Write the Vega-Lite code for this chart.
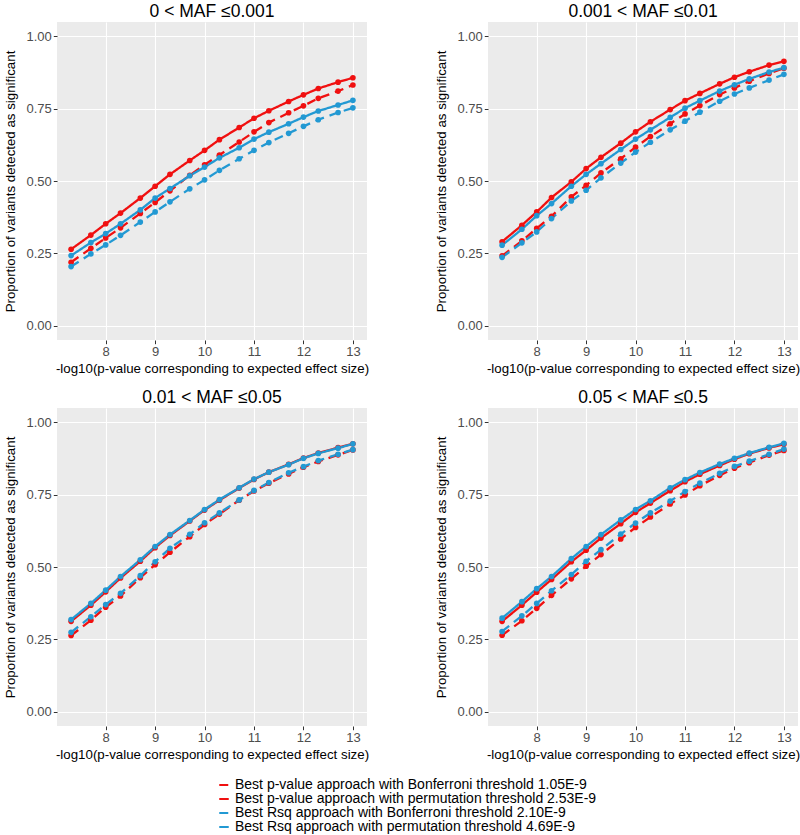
{
  "$schema": "https://vega.github.io/schema/vega-lite/v6.json",
  "padding": {"left": 3, "top": 2, "right": 0, "bottom": 2},
  "background": "white",
  "config": {
    "font": "Liberation Sans",
    "view": {"fill": "#EBEBEB", "stroke": null},
    "axis": {
      "domain": false,
      "labelColor": "#4D4D4D",
      "labelFontSize": 13,
      "tickColor": "#333333",
      "tickSize": 3.7,
      "tickWidth": 1,
      "gridColor": "#FFFFFF",
      "gridWidth": 1.1,
      "titleFontWeight": "normal",
      "titleFontSize": 13.3,
      "titleColor": "#000000",
      "labelPadding": 2
    },
    "axisX": {"titlePadding": 3},
    "axisY": {"titlePadding": 8},
    "title": {"fontSize": 17.5, "fontWeight": "normal", "anchor": "middle", "offset": 2, "color": "#000000"},
    "legend": {
      "direction": "vertical",
      "title": null,
      "labelFontSize": 14,
      "labelLimit": 700,
      "symbolType": "stroke",
      "symbolSize": 90,
      "symbolStrokeWidth": 2,
      "rowPadding": 0,
      "labelOffset": 4
    }
  },
  "data": {"values": [
    {"panel":"p1","series":"pB","x":7.3,"y":0.219},{"panel":"p1","series":"pB","x":7.7,"y":0.267},{"panel":"p1","series":"pB","x":8,"y":0.303},{"panel":"p1","series":"pB","x":8.3,"y":0.338},{"panel":"p1","series":"pB","x":8.7,"y":0.388},{"panel":"p1","series":"pB","x":9,"y":0.426},{"panel":"p1","series":"pB","x":9.3,"y":0.466},{"panel":"p1","series":"pB","x":9.7,"y":0.52},{"panel":"p1","series":"pB","x":10,"y":0.556},{"panel":"p1","series":"pB","x":10.3,"y":0.59},{"panel":"p1","series":"pB","x":10.7,"y":0.635},{"panel":"p1","series":"pB","x":11,"y":0.67},{"panel":"p1","series":"pB","x":11.3,"y":0.702},{"panel":"p1","series":"pB","x":11.7,"y":0.736},{"panel":"p1","series":"pB","x":12,"y":0.76},{"panel":"p1","series":"pB","x":12.3,"y":0.786},{"panel":"p1","series":"pB","x":12.7,"y":0.811},{"panel":"p1","series":"pB","x":13,"y":0.832},
    {"panel":"p1","series":"pP","x":7.3,"y":0.264},{"panel":"p1","series":"pP","x":7.7,"y":0.313},{"panel":"p1","series":"pP","x":8,"y":0.352},{"panel":"p1","series":"pP","x":8.3,"y":0.389},{"panel":"p1","series":"pP","x":8.7,"y":0.441},{"panel":"p1","series":"pP","x":9,"y":0.482},{"panel":"p1","series":"pP","x":9.3,"y":0.523},{"panel":"p1","series":"pP","x":9.7,"y":0.571},{"panel":"p1","series":"pP","x":10,"y":0.606},{"panel":"p1","series":"pP","x":10.3,"y":0.643},{"panel":"p1","series":"pP","x":10.7,"y":0.685},{"panel":"p1","series":"pP","x":11,"y":0.717},{"panel":"p1","series":"pP","x":11.3,"y":0.743},{"panel":"p1","series":"pP","x":11.7,"y":0.775},{"panel":"p1","series":"pP","x":12,"y":0.798},{"panel":"p1","series":"pP","x":12.3,"y":0.82},{"panel":"p1","series":"pP","x":12.7,"y":0.842},{"panel":"p1","series":"pP","x":13,"y":0.857},
    {"panel":"p1","series":"rB","x":7.3,"y":0.204},{"panel":"p1","series":"rB","x":7.7,"y":0.248},{"panel":"p1","series":"rB","x":8,"y":0.279},{"panel":"p1","series":"rB","x":8.3,"y":0.312},{"panel":"p1","series":"rB","x":8.7,"y":0.358},{"panel":"p1","series":"rB","x":9,"y":0.393},{"panel":"p1","series":"rB","x":9.3,"y":0.428},{"panel":"p1","series":"rB","x":9.7,"y":0.473},{"panel":"p1","series":"rB","x":10,"y":0.504},{"panel":"p1","series":"rB","x":10.3,"y":0.537},{"panel":"p1","series":"rB","x":10.7,"y":0.577},{"panel":"p1","series":"rB","x":11,"y":0.606},{"panel":"p1","series":"rB","x":11.3,"y":0.633},{"panel":"p1","series":"rB","x":11.7,"y":0.665},{"panel":"p1","series":"rB","x":12,"y":0.689},{"panel":"p1","series":"rB","x":12.3,"y":0.712},{"panel":"p1","series":"rB","x":12.7,"y":0.737},{"panel":"p1","series":"rB","x":13,"y":0.753},
    {"panel":"p1","series":"rP","x":7.3,"y":0.242},{"panel":"p1","series":"rP","x":7.7,"y":0.287},{"panel":"p1","series":"rP","x":8,"y":0.318},{"panel":"p1","series":"rP","x":8.3,"y":0.352},{"panel":"p1","series":"rP","x":8.7,"y":0.4},{"panel":"p1","series":"rP","x":9,"y":0.441},{"panel":"p1","series":"rP","x":9.3,"y":0.474},{"panel":"p1","series":"rP","x":9.7,"y":0.518},{"panel":"p1","series":"rP","x":10,"y":0.548},{"panel":"p1","series":"rP","x":10.3,"y":0.58},{"panel":"p1","series":"rP","x":10.7,"y":0.615},{"panel":"p1","series":"rP","x":11,"y":0.645},{"panel":"p1","series":"rP","x":11.3,"y":0.669},{"panel":"p1","series":"rP","x":11.7,"y":0.698},{"panel":"p1","series":"rP","x":12,"y":0.721},{"panel":"p1","series":"rP","x":12.3,"y":0.742},{"panel":"p1","series":"rP","x":12.7,"y":0.763},{"panel":"p1","series":"rP","x":13,"y":0.779},
    {"panel":"p2","series":"pB","x":7.3,"y":0.241},{"panel":"p2","series":"pB","x":7.7,"y":0.293},{"panel":"p2","series":"pB","x":8,"y":0.336},{"panel":"p2","series":"pB","x":8.3,"y":0.378},{"panel":"p2","series":"pB","x":8.7,"y":0.445},{"panel":"p2","series":"pB","x":9,"y":0.485},{"panel":"p2","series":"pB","x":9.3,"y":0.528},{"panel":"p2","series":"pB","x":9.7,"y":0.577},{"panel":"p2","series":"pB","x":10,"y":0.617},{"panel":"p2","series":"pB","x":10.3,"y":0.654},{"panel":"p2","series":"pB","x":10.7,"y":0.698},{"panel":"p2","series":"pB","x":11,"y":0.732},{"panel":"p2","series":"pB","x":11.3,"y":0.761},{"panel":"p2","series":"pB","x":11.7,"y":0.799},{"panel":"p2","series":"pB","x":12,"y":0.822},{"panel":"p2","series":"pB","x":12.3,"y":0.845},{"panel":"p2","series":"pB","x":12.7,"y":0.872},{"panel":"p2","series":"pB","x":13,"y":0.89},
    {"panel":"p2","series":"pP","x":7.3,"y":0.29},{"panel":"p2","series":"pP","x":7.7,"y":0.347},{"panel":"p2","series":"pP","x":8,"y":0.393},{"panel":"p2","series":"pP","x":8.3,"y":0.443},{"panel":"p2","series":"pP","x":8.7,"y":0.497},{"panel":"p2","series":"pP","x":9,"y":0.543},{"panel":"p2","series":"pP","x":9.3,"y":0.582},{"panel":"p2","series":"pP","x":9.7,"y":0.631},{"panel":"p2","series":"pP","x":10,"y":0.67},{"panel":"p2","series":"pP","x":10.3,"y":0.705},{"panel":"p2","series":"pP","x":10.7,"y":0.747},{"panel":"p2","series":"pP","x":11,"y":0.778},{"panel":"p2","series":"pP","x":11.3,"y":0.803},{"panel":"p2","series":"pP","x":11.7,"y":0.836},{"panel":"p2","series":"pP","x":12,"y":0.859},{"panel":"p2","series":"pP","x":12.3,"y":0.878},{"panel":"p2","series":"pP","x":12.7,"y":0.901},{"panel":"p2","series":"pP","x":13,"y":0.914},
    {"panel":"p2","series":"rB","x":7.3,"y":0.236},{"panel":"p2","series":"rB","x":7.7,"y":0.286},{"panel":"p2","series":"rB","x":8,"y":0.324},{"panel":"p2","series":"rB","x":8.3,"y":0.37},{"panel":"p2","series":"rB","x":8.7,"y":0.431},{"panel":"p2","series":"rB","x":9,"y":0.468},{"panel":"p2","series":"rB","x":9.3,"y":0.511},{"panel":"p2","series":"rB","x":9.7,"y":0.562},{"panel":"p2","series":"rB","x":10,"y":0.6},{"panel":"p2","series":"rB","x":10.3,"y":0.634},{"panel":"p2","series":"rB","x":10.7,"y":0.677},{"panel":"p2","series":"rB","x":11,"y":0.707},{"panel":"p2","series":"rB","x":11.3,"y":0.738},{"panel":"p2","series":"rB","x":11.7,"y":0.776},{"panel":"p2","series":"rB","x":12,"y":0.801},{"panel":"p2","series":"rB","x":12.3,"y":0.822},{"panel":"p2","series":"rB","x":12.7,"y":0.849},{"panel":"p2","series":"rB","x":13,"y":0.869},
    {"panel":"p2","series":"rP","x":7.3,"y":0.278},{"panel":"p2","series":"rP","x":7.7,"y":0.333},{"panel":"p2","series":"rP","x":8,"y":0.38},{"panel":"p2","series":"rP","x":8.3,"y":0.422},{"panel":"p2","series":"rP","x":8.7,"y":0.482},{"panel":"p2","series":"rP","x":9,"y":0.523},{"panel":"p2","series":"rP","x":9.3,"y":0.56},{"panel":"p2","series":"rP","x":9.7,"y":0.609},{"panel":"p2","series":"rP","x":10,"y":0.645},{"panel":"p2","series":"rP","x":10.3,"y":0.677},{"panel":"p2","series":"rP","x":10.7,"y":0.72},{"panel":"p2","series":"rP","x":11,"y":0.752},{"panel":"p2","series":"rP","x":11.3,"y":0.778},{"panel":"p2","series":"rP","x":11.7,"y":0.811},{"panel":"p2","series":"rP","x":12,"y":0.833},{"panel":"p2","series":"rP","x":12.3,"y":0.853},{"panel":"p2","series":"rP","x":12.7,"y":0.877},{"panel":"p2","series":"rP","x":13,"y":0.892},
    {"panel":"p3","series":"pB","x":7.3,"y":0.263},{"panel":"p3","series":"pB","x":7.7,"y":0.316},{"panel":"p3","series":"pB","x":8,"y":0.361},{"panel":"p3","series":"pB","x":8.3,"y":0.4},{"panel":"p3","series":"pB","x":8.7,"y":0.463},{"panel":"p3","series":"pB","x":9,"y":0.508},{"panel":"p3","series":"pB","x":9.3,"y":0.551},{"panel":"p3","series":"pB","x":9.7,"y":0.605},{"panel":"p3","series":"pB","x":10,"y":0.647},{"panel":"p3","series":"pB","x":10.3,"y":0.683},{"panel":"p3","series":"pB","x":10.7,"y":0.731},{"panel":"p3","series":"pB","x":11,"y":0.763},{"panel":"p3","series":"pB","x":11.3,"y":0.79},{"panel":"p3","series":"pB","x":11.7,"y":0.822},{"panel":"p3","series":"pB","x":12,"y":0.845},{"panel":"p3","series":"pB","x":12.3,"y":0.865},{"panel":"p3","series":"pB","x":12.7,"y":0.888},{"panel":"p3","series":"pB","x":13,"y":0.905},
    {"panel":"p3","series":"pP","x":7.3,"y":0.312},{"panel":"p3","series":"pP","x":7.7,"y":0.368},{"panel":"p3","series":"pP","x":8,"y":0.414},{"panel":"p3","series":"pP","x":8.3,"y":0.462},{"panel":"p3","series":"pP","x":8.7,"y":0.52},{"panel":"p3","series":"pP","x":9,"y":0.567},{"panel":"p3","series":"pP","x":9.3,"y":0.609},{"panel":"p3","series":"pP","x":9.7,"y":0.659},{"panel":"p3","series":"pP","x":10,"y":0.697},{"panel":"p3","series":"pP","x":10.3,"y":0.731},{"panel":"p3","series":"pP","x":10.7,"y":0.773},{"panel":"p3","series":"pP","x":11,"y":0.803},{"panel":"p3","series":"pP","x":11.3,"y":0.828},{"panel":"p3","series":"pP","x":11.7,"y":0.855},{"panel":"p3","series":"pP","x":12,"y":0.877},{"panel":"p3","series":"pP","x":12.3,"y":0.894},{"panel":"p3","series":"pP","x":12.7,"y":0.913},{"panel":"p3","series":"pP","x":13,"y":0.926},
    {"panel":"p3","series":"rB","x":7.3,"y":0.274},{"panel":"p3","series":"rB","x":7.7,"y":0.328},{"panel":"p3","series":"rB","x":8,"y":0.37},{"panel":"p3","series":"rB","x":8.3,"y":0.409},{"panel":"p3","series":"rB","x":8.7,"y":0.47},{"panel":"p3","series":"rB","x":9,"y":0.518},{"panel":"p3","series":"rB","x":9.3,"y":0.565},{"panel":"p3","series":"rB","x":9.7,"y":0.613},{"panel":"p3","series":"rB","x":10,"y":0.653},{"panel":"p3","series":"rB","x":10.3,"y":0.687},{"panel":"p3","series":"rB","x":10.7,"y":0.732},{"panel":"p3","series":"rB","x":11,"y":0.765},{"panel":"p3","series":"rB","x":11.3,"y":0.792},{"panel":"p3","series":"rB","x":11.7,"y":0.826},{"panel":"p3","series":"rB","x":12,"y":0.847},{"panel":"p3","series":"rB","x":12.3,"y":0.868},{"panel":"p3","series":"rB","x":12.7,"y":0.89},{"panel":"p3","series":"rB","x":13,"y":0.906},
    {"panel":"p3","series":"rP","x":7.3,"y":0.318},{"panel":"p3","series":"rP","x":7.7,"y":0.374},{"panel":"p3","series":"rP","x":8,"y":0.42},{"panel":"p3","series":"rP","x":8.3,"y":0.467},{"panel":"p3","series":"rP","x":8.7,"y":0.525},{"panel":"p3","series":"rP","x":9,"y":0.571},{"panel":"p3","series":"rP","x":9.3,"y":0.612},{"panel":"p3","series":"rP","x":9.7,"y":0.661},{"panel":"p3","series":"rP","x":10,"y":0.699},{"panel":"p3","series":"rP","x":10.3,"y":0.733},{"panel":"p3","series":"rP","x":10.7,"y":0.774},{"panel":"p3","series":"rP","x":11,"y":0.804},{"panel":"p3","series":"rP","x":11.3,"y":0.828},{"panel":"p3","series":"rP","x":11.7,"y":0.854},{"panel":"p3","series":"rP","x":12,"y":0.876},{"panel":"p3","series":"rP","x":12.3,"y":0.893},{"panel":"p3","series":"rP","x":12.7,"y":0.911},{"panel":"p3","series":"rP","x":13,"y":0.926},
    {"panel":"p4","series":"pB","x":7.3,"y":0.264},{"panel":"p4","series":"pB","x":7.7,"y":0.314},{"panel":"p4","series":"pB","x":8,"y":0.357},{"panel":"p4","series":"pB","x":8.3,"y":0.402},{"panel":"p4","series":"pB","x":8.7,"y":0.459},{"panel":"p4","series":"pB","x":9,"y":0.503},{"panel":"p4","series":"pB","x":9.3,"y":0.543},{"panel":"p4","series":"pB","x":9.7,"y":0.597},{"panel":"p4","series":"pB","x":10,"y":0.637},{"panel":"p4","series":"pB","x":10.3,"y":0.673},{"panel":"p4","series":"pB","x":10.7,"y":0.718},{"panel":"p4","series":"pB","x":11,"y":0.749},{"panel":"p4","series":"pB","x":11.3,"y":0.781},{"panel":"p4","series":"pB","x":11.7,"y":0.817},{"panel":"p4","series":"pB","x":12,"y":0.842},{"panel":"p4","series":"pB","x":12.3,"y":0.861},{"panel":"p4","series":"pB","x":12.7,"y":0.887},{"panel":"p4","series":"pB","x":13,"y":0.903},
    {"panel":"p4","series":"pP","x":7.3,"y":0.312},{"panel":"p4","series":"pP","x":7.7,"y":0.368},{"panel":"p4","series":"pP","x":8,"y":0.413},{"panel":"p4","series":"pP","x":8.3,"y":0.457},{"panel":"p4","series":"pP","x":8.7,"y":0.518},{"panel":"p4","series":"pP","x":9,"y":0.558},{"panel":"p4","series":"pP","x":9.3,"y":0.6},{"panel":"p4","series":"pP","x":9.7,"y":0.65},{"panel":"p4","series":"pP","x":10,"y":0.689},{"panel":"p4","series":"pP","x":10.3,"y":0.721},{"panel":"p4","series":"pP","x":10.7,"y":0.764},{"panel":"p4","series":"pP","x":11,"y":0.795},{"panel":"p4","series":"pP","x":11.3,"y":0.821},{"panel":"p4","series":"pP","x":11.7,"y":0.851},{"panel":"p4","series":"pP","x":12,"y":0.873},{"panel":"p4","series":"pP","x":12.3,"y":0.892},{"panel":"p4","series":"pP","x":12.7,"y":0.912},{"panel":"p4","series":"pP","x":13,"y":0.925},
    {"panel":"p4","series":"rB","x":7.3,"y":0.277},{"panel":"p4","series":"rB","x":7.7,"y":0.331},{"panel":"p4","series":"rB","x":8,"y":0.374},{"panel":"p4","series":"rB","x":8.3,"y":0.418},{"panel":"p4","series":"rB","x":8.7,"y":0.474},{"panel":"p4","series":"rB","x":9,"y":0.52},{"panel":"p4","series":"rB","x":9.3,"y":0.56},{"panel":"p4","series":"rB","x":9.7,"y":0.614},{"panel":"p4","series":"rB","x":10,"y":0.652},{"panel":"p4","series":"rB","x":10.3,"y":0.687},{"panel":"p4","series":"rB","x":10.7,"y":0.728},{"panel":"p4","series":"rB","x":11,"y":0.761},{"panel":"p4","series":"rB","x":11.3,"y":0.79},{"panel":"p4","series":"rB","x":11.7,"y":0.824},{"panel":"p4","series":"rB","x":12,"y":0.848},{"panel":"p4","series":"rB","x":12.3,"y":0.866},{"panel":"p4","series":"rB","x":12.7,"y":0.89},{"panel":"p4","series":"rB","x":13,"y":0.908},
    {"panel":"p4","series":"rP","x":7.3,"y":0.323},{"panel":"p4","series":"rP","x":7.7,"y":0.38},{"panel":"p4","series":"rP","x":8,"y":0.425},{"panel":"p4","series":"rP","x":8.3,"y":0.467},{"panel":"p4","series":"rP","x":8.7,"y":0.529},{"panel":"p4","series":"rP","x":9,"y":0.571},{"panel":"p4","series":"rP","x":9.3,"y":0.612},{"panel":"p4","series":"rP","x":9.7,"y":0.663},{"panel":"p4","series":"rP","x":10,"y":0.699},{"panel":"p4","series":"rP","x":10.3,"y":0.729},{"panel":"p4","series":"rP","x":10.7,"y":0.774},{"panel":"p4","series":"rP","x":11,"y":0.802},{"panel":"p4","series":"rP","x":11.3,"y":0.827},{"panel":"p4","series":"rP","x":11.7,"y":0.856},{"panel":"p4","series":"rP","x":12,"y":0.876},{"panel":"p4","series":"rP","x":12.3,"y":0.894},{"panel":"p4","series":"rP","x":12.7,"y":0.914},{"panel":"p4","series":"rP","x":13,"y":0.928}
  ]},
  "vconcat": [
    {"hconcat": [
      {"title": "0 < MAF ≤0.001", "width": 310, "height": 318,
       "transform": [{"filter": "datum.panel === 'p1'"}],
       "layer": [
         {"mark": {"type": "line", "strokeWidth": 2.3},
          "encoding": {
            "x": {"field": "x", "type": "quantitative", "scale": {"domain": [7.015, 13.285], "nice": false, "zero": false}, "axis": {"values": [8,9,10,11,12,13], "title": "-log10(p-value corresponding to expected effect size)"}},
            "y": {"field": "y", "type": "quantitative", "scale": {"domain": [-0.05, 1.05], "nice": false}, "axis": {"values": [0,0.25,0.5,0.75,1], "format": ".2f", "title": "Proportion of variants detected as significant"}},
            "color": {"field": "series", "type": "nominal", "scale": {"domain": ["pB","pP","rB","rP"], "range": ["#F01010","#F01010","#2299D3","#2299D3"]}, "legend": {"orient": "none", "legendX": 160, "legendY": 756, "labelExpr": "{'pB':'Best p-value approach with Bonferroni threshold 1.05E-9','pP':'Best p-value approach with permutation threshold 2.53E-9','rB':'Best Rsq approach with Bonferroni threshold 2.10E-9','rP':'Best Rsq approach with permutation threshold 4.69E-9'}[datum.value]"}},
            "strokeDash": {"field": "series", "type": "nominal", "scale": {"domain": ["pB","pP","rB","rP"], "range": [[9,6],[1,0],[9,6],[1,0]]}, "legend": {"orient": "none", "legendX": 160, "legendY": 756, "labelExpr": "{'pB':'Best p-value approach with Bonferroni threshold 1.05E-9','pP':'Best p-value approach with permutation threshold 2.53E-9','rB':'Best Rsq approach with Bonferroni threshold 2.10E-9','rP':'Best Rsq approach with permutation threshold 4.69E-9'}[datum.value]"}}
          }},
         {"mark": {"type": "point", "filled": true, "size": 32, "opacity": 1},
          "encoding": {
            "x": {"field": "x", "type": "quantitative", "axis": {"orient": "top", "values": [7.5,8.5,9.5,10.5,11.5,12.5], "gridWidth": 0.55, "labels": false, "ticks": false, "title": null}},
            "y": {"field": "y", "type": "quantitative", "axis": {"orient": "right", "values": [0.125,0.375,0.625,0.875], "gridWidth": 0.55, "labels": false, "ticks": false, "title": null}},
            "color": {"field": "series", "type": "nominal"}
          }}
       ],
       "resolve": {"axis": {"x": "independent", "y": "independent"}}
      },
      {"title": "0.001 < MAF ≤0.01", "width": 310, "height": 318,
       "transform": [{"filter": "datum.panel === 'p2'"}],
       "layer": [
         {"mark": {"type": "line", "strokeWidth": 2.3},
          "encoding": {
            "x": {"field": "x", "type": "quantitative", "scale": {"domain": [7.015, 13.285], "nice": false, "zero": false}, "axis": {"values": [8,9,10,11,12,13], "title": "-log10(p-value corresponding to expected effect size)"}},
            "y": {"field": "y", "type": "quantitative", "scale": {"domain": [-0.05, 1.05], "nice": false}, "axis": {"values": [0,0.25,0.5,0.75,1], "format": ".2f", "title": "Proportion of variants detected as significant"}},
            "color": {"field": "series", "type": "nominal"},
            "strokeDash": {"field": "series", "type": "nominal"}
          }},
         {"mark": {"type": "point", "filled": true, "size": 32, "opacity": 1},
          "encoding": {
            "x": {"field": "x", "type": "quantitative", "axis": {"orient": "top", "values": [7.5,8.5,9.5,10.5,11.5,12.5], "gridWidth": 0.55, "labels": false, "ticks": false, "title": null}},
            "y": {"field": "y", "type": "quantitative", "axis": {"orient": "right", "values": [0.125,0.375,0.625,0.875], "gridWidth": 0.55, "labels": false, "ticks": false, "title": null}},
            "color": {"field": "series", "type": "nominal"}
          }}
       ],
       "resolve": {"axis": {"x": "independent", "y": "independent"}}
      }
    ], "spacing": 65},
    {"hconcat": [
      {"title": "0.01 < MAF ≤0.05", "width": 310, "height": 318,
       "transform": [{"filter": "datum.panel === 'p3'"}],
       "layer": [
         {"mark": {"type": "line", "strokeWidth": 2.3},
          "encoding": {
            "x": {"field": "x", "type": "quantitative", "scale": {"domain": [7.015, 13.285], "nice": false, "zero": false}, "axis": {"values": [8,9,10,11,12,13], "title": "-log10(p-value corresponding to expected effect size)"}},
            "y": {"field": "y", "type": "quantitative", "scale": {"domain": [-0.05, 1.05], "nice": false}, "axis": {"values": [0,0.25,0.5,0.75,1], "format": ".2f", "title": "Proportion of variants detected as significant"}},
            "color": {"field": "series", "type": "nominal"},
            "strokeDash": {"field": "series", "type": "nominal"}
          }},
         {"mark": {"type": "point", "filled": true, "size": 32, "opacity": 1},
          "encoding": {
            "x": {"field": "x", "type": "quantitative", "axis": {"orient": "top", "values": [7.5,8.5,9.5,10.5,11.5,12.5], "gridWidth": 0.55, "labels": false, "ticks": false, "title": null}},
            "y": {"field": "y", "type": "quantitative", "axis": {"orient": "right", "values": [0.125,0.375,0.625,0.875], "gridWidth": 0.55, "labels": false, "ticks": false, "title": null}},
            "color": {"field": "series", "type": "nominal"}
          }}
       ],
       "resolve": {"axis": {"x": "independent", "y": "independent"}}
      },
      {"title": "0.05 < MAF ≤0.5", "width": 310, "height": 318,
       "transform": [{"filter": "datum.panel === 'p4'"}],
       "layer": [
         {"mark": {"type": "line", "strokeWidth": 2.3},
          "encoding": {
            "x": {"field": "x", "type": "quantitative", "scale": {"domain": [7.015, 13.285], "nice": false, "zero": false}, "axis": {"values": [8,9,10,11,12,13], "title": "-log10(p-value corresponding to expected effect size)"}},
            "y": {"field": "y", "type": "quantitative", "scale": {"domain": [-0.05, 1.05], "nice": false}, "axis": {"values": [0,0.25,0.5,0.75,1], "format": ".2f", "title": "Proportion of variants detected as significant"}},
            "color": {"field": "series", "type": "nominal"},
            "strokeDash": {"field": "series", "type": "nominal"}
          }},
         {"mark": {"type": "point", "filled": true, "size": 32, "opacity": 1},
          "encoding": {
            "x": {"field": "x", "type": "quantitative", "axis": {"orient": "top", "values": [7.5,8.5,9.5,10.5,11.5,12.5], "gridWidth": 0.55, "labels": false, "ticks": false, "title": null}},
            "y": {"field": "y", "type": "quantitative", "axis": {"orient": "right", "values": [0.125,0.375,0.625,0.875], "gridWidth": 0.55, "labels": false, "ticks": false, "title": null}},
            "color": {"field": "series", "type": "nominal"}
          }}
       ],
       "resolve": {"axis": {"x": "independent", "y": "independent"}}
      }
    ], "spacing": 65}
  ],
  "spacing": 13
}
